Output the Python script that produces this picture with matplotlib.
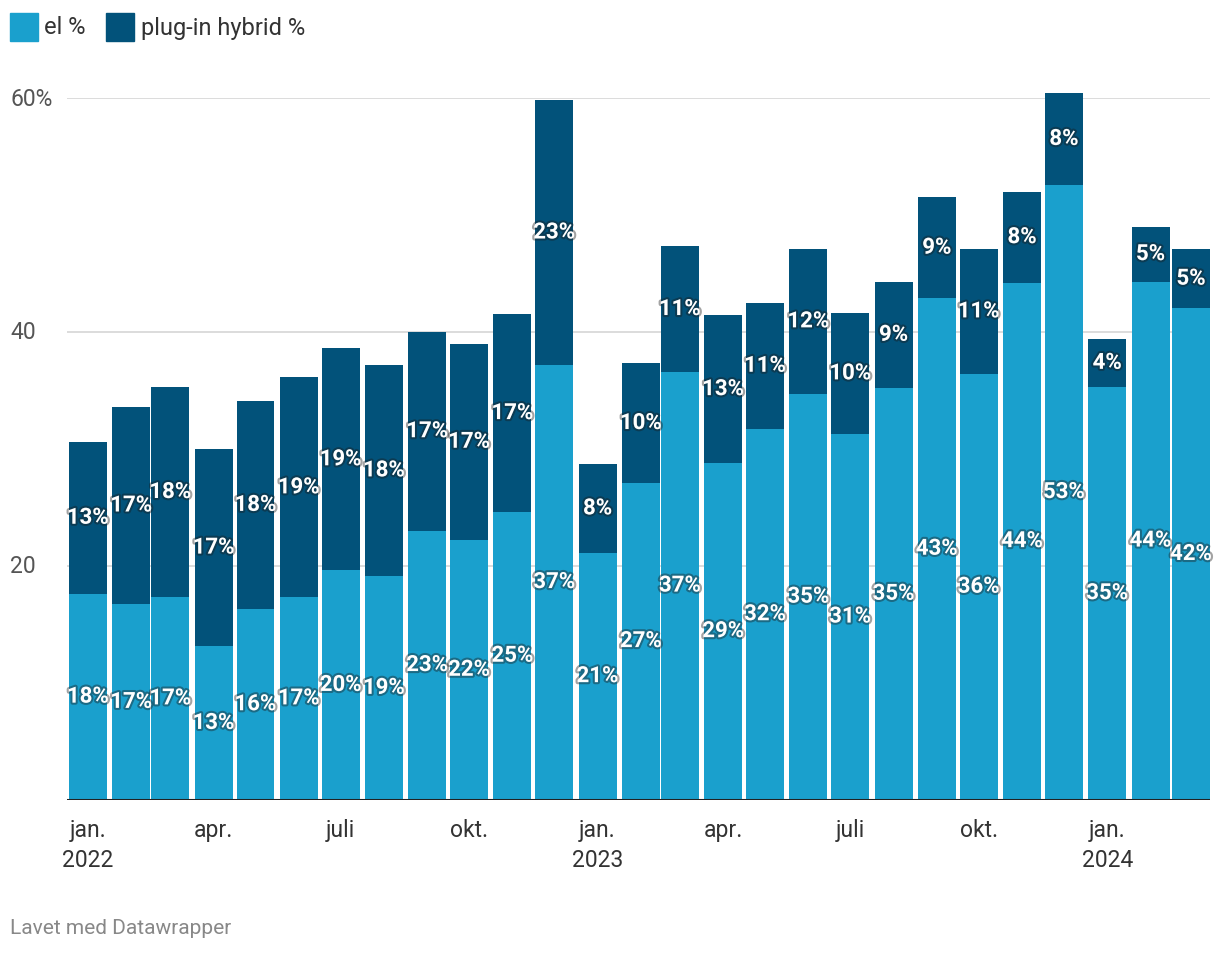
import numpy as np
import matplotlib
matplotlib.use("Agg")
import matplotlib.pyplot as plt
import matplotlib.dates as mdates
import matplotlib.patheffects as pe
from matplotlib.transforms import blended_transform_factory

plt.rcParams['font.family'] = ['Roboto', 'DejaVu Sans']

months = np.arange('2022-01', '2024-04', dtype='datetime64[M]')
el = [17.6, 16.7, 17.3, 13.1, 16.3, 17.3, 19.6, 19.1, 23.0, 22.2, 24.6, 37.2,
      21.1, 27.1, 36.6, 28.8, 31.7, 34.7, 31.3, 35.2, 42.9, 36.4, 44.2, 52.6,
      35.3, 44.3, 42.0]
phev = [13.0, 16.9, 18.0, 16.9, 17.8, 18.8, 19.0, 18.1, 17.0, 16.8, 16.9, 22.6,
        7.6, 10.2, 10.7, 12.6, 10.8, 12.4, 10.3, 9.1, 8.6, 10.7, 7.8, 7.8,
        4.1, 4.7, 5.1]
month_names = {1: 'jan.', 4: 'apr.', 7: 'juli', 10: 'okt.'}

c_el = '#1aa0cd'
c_phev = '#02527a'

x = mdates.date2num(months.astype('datetime64[D]').astype('O'))
el = np.array(el)
phev = np.array(phev)
bw = 27.2

fig = plt.figure(figsize=(12.2, 9.54), dpi=100)
ax = fig.add_axes([67/1220, 153.5/954, 1143/1220, 701.5/954])

ax.bar(x, el, width=bw, align='edge', color=c_el, clip_on=False)
ax.bar(x, phev, bottom=el, width=bw, align='edge', color=c_phev, clip_on=False)

stroke = [pe.withStroke(linewidth=3, foreground='#1a1a1a', alpha=0.4)]
for xi, e, p in zip(x, el, phev):
    ax.text(xi + bw/2, e/2, f"{round(e)}%", ha='center', va='center', color='white',
            fontsize=16, fontweight='bold', path_effects=stroke, zorder=5)
    ax.text(xi + bw/2, e + p/2, f"{round(p)}%", ha='center', va='center', color='white',
            fontsize=16, fontweight='bold', path_effects=stroke, zorder=5)

ax.set_xlim(x[0] - 1.4, x[-1] + bw)
ax.set_ylim(0, 60)

for s in ax.spines.values():
    s.set_visible(False)
ax.set_yticks([])
for v in [20, 40, 60]:
    ax.axhline(v, color='#d9d9d9', lw=1.3, zorder=0)
ax.axhline(0, color='#222222', lw=2.2, zorder=4)

# y labels at the far left of the figure
ytrans = blended_transform_factory(fig.transFigure, ax.transData)
for v, lab in [(20, '20'), (40, '40'), (60, '60%')]:
    ax.text(10/1220, v, lab, transform=ytrans, ha='left', va='center',
            fontsize=16.5, color='#555555')

ticks, labels = [], []
for xi, m in zip(x, months):
    mo = int(str(m)[5:7])
    if mo in month_names:
        ticks.append(xi + bw/2)
        lab = month_names[mo]
        if mo == 1:
            lab += '\n' + str(m)[:4]
        labels.append(lab)
ax.set_xticks(ticks)
ax.set_xticklabels(labels, fontsize=16.5, color='#333333', linespacing=1.4, va='top')
ax.tick_params(axis='x', length=0, pad=13)

# legend
fig.patches.append(plt.Rectangle((10/1220, 1 - 42/954), 28/1220, 28/954,
                                 transform=fig.transFigure, color=c_el))
fig.text(44/1220, 1 - 28/954, 'el %', fontsize=17, color='#333333', va='center')
fig.patches.append(plt.Rectangle((106/1220, 1 - 42/954), 28/1220, 28/954,
                                 transform=fig.transFigure, color=c_phev))
fig.text(141/1220, 1 - 28/954, 'plug-in hybrid %', fontsize=17, color='#333333', va='center')

fig.text(10/1220, 1 - 929/954, 'Lavet med Datawrapper', fontsize=15, color='#888888', va='center')

fig.savefig('out.png', dpi=100)
